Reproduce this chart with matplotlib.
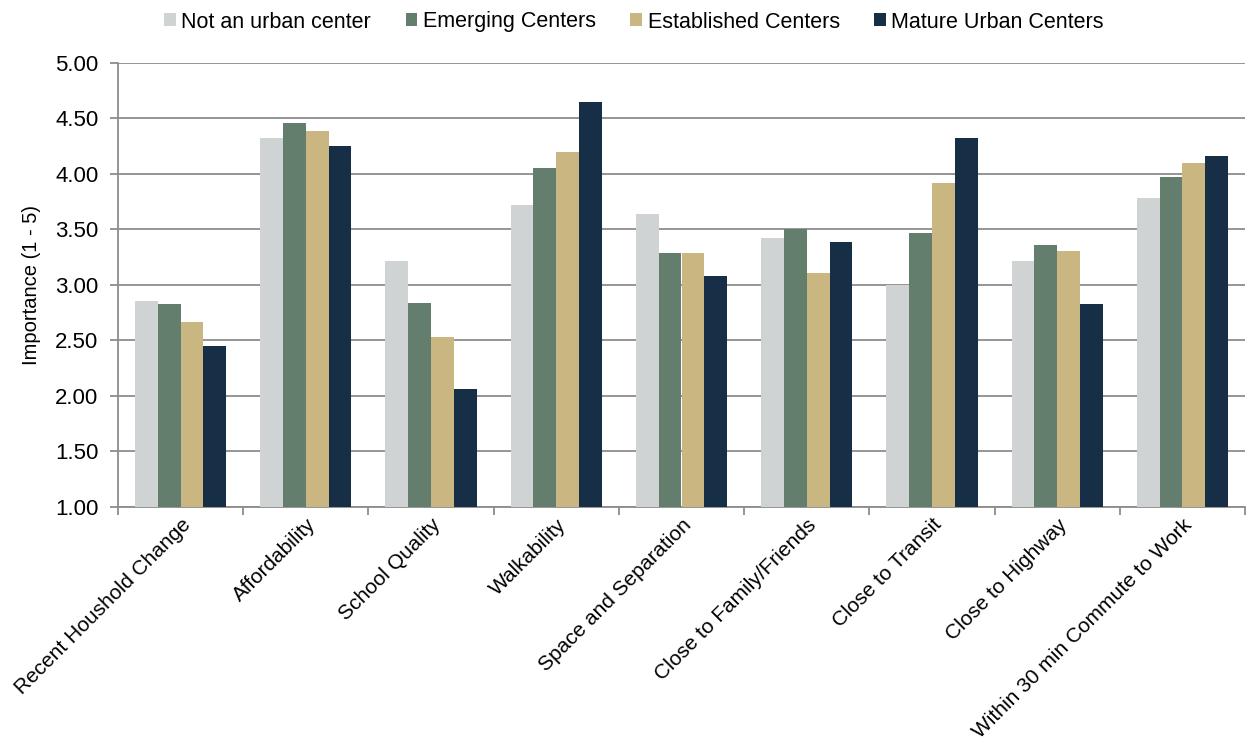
import numpy as np
import matplotlib.pyplot as plt
from matplotlib.patches import Patch

plt.rcParams['font.family'] = ['Liberation Sans', 'DejaVu Sans']

categories = ['Recent Houshold Change', 'Affordability', 'School Quality', 'Walkability',
              'Space and Separation', 'Close to Family/Friends', 'Close to Transit',
              'Close to Highway', 'Within 30 min Commute to Work']
series = ['Not an urban center', 'Emerging Centers', 'Established Centers', 'Mature Urban Centers']

not_urban = [2.86, 4.32, 3.22, 3.72, 3.64, 3.42, 3.00, 3.22, 3.78]
emerging = [2.83, 4.46, 2.84, 4.05, 3.29, 3.50, 3.47, 3.36, 3.97]
established = [2.67, 4.39, 2.53, 4.20, 3.29, 3.11, 3.92, 3.31, 4.10]
mature = [2.45, 4.25, 2.06, 4.65, 3.08, 3.39, 4.32, 2.83, 4.16]

colors = ['#D0D3D4', '#637E6C', '#C9B681', '#172E47']

fig = plt.figure(figsize=(12.49, 7.52), dpi=100)
ax = fig.add_axes([118 / 1249, 1 - 507 / 752, (1245 - 118) / 1249, (507 - 63) / 752])

x = np.arange(len(categories))
w = 0.182
for i, (vals, c) in enumerate(zip([not_urban, emerging, established, mature], colors)):
    ax.bar(x + (i - 1.5) * w, np.array(vals) - 1.0, width=w, bottom=1.0, color=c, zorder=3)

ax.set_ylim(1, 5)
ax.set_xlim(-0.5, len(categories) - 0.5)
ax.set_yticks(np.arange(1, 5.01, 0.5))
ax.set_yticklabels([f'{v:.2f}' for v in np.arange(1, 5.01, 0.5)], fontsize=16)
ax.yaxis.grid(True, color='#8C8C8C', linewidth=1.3, zorder=0)
ax.set_axisbelow(True)

# x ticks sit between categories, labels at centers
ax.set_xticks(np.arange(-0.5, len(categories), 1.0))
ax.set_xticklabels([])
ax.set_xticks(x, minor=True)
ax.set_xticklabels(categories, minor=True, rotation=45, ha='right', rotation_mode='anchor', fontsize=15)
ax.tick_params(axis='x', which='minor', length=0, pad=6)
ax.tick_params(axis='x', which='major', length=6, color='#8C8C8C', width=1.3)
ax.tick_params(axis='y', length=6, color='#8C8C8C', width=1.3, pad=8)

for s in ['top', 'right']:
    ax.spines[s].set_visible(False)
for s in ['left', 'bottom']:
    ax.spines[s].set_color('#8C8C8C')
    ax.spines[s].set_linewidth(1.3)

ax.set_ylabel('Importance (1 - 5)', fontsize=14.5, labelpad=10)

handles = [Patch(facecolor=c, label=s) for c, s in zip(colors, series)]
fig.legend(handles=handles, loc='center', bbox_to_anchor=(634 / 1249, 1 - 22 / 752), ncol=4,
           frameon=False, fontsize=15.5, handlelength=0.55, handleheight=0.55,
           handletextpad=0.25, columnspacing=1.6)

fig.savefig('out.png', dpi=100)
